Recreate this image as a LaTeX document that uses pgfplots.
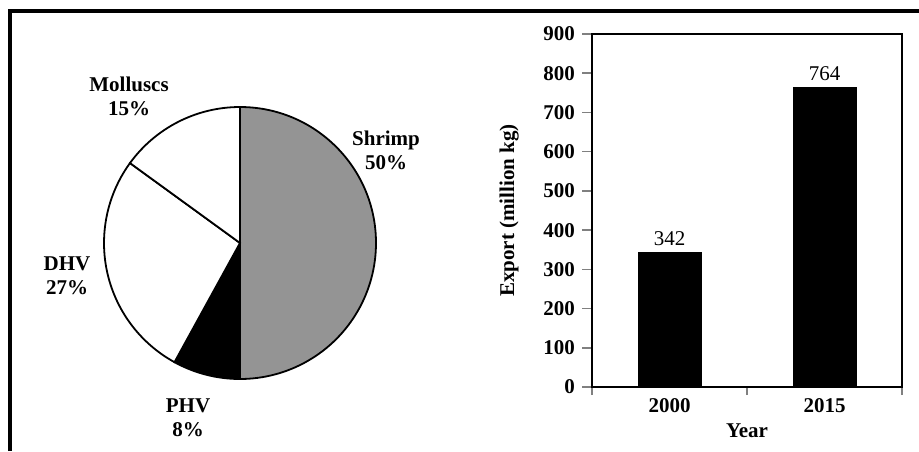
\documentclass[border=0pt]{standalone}
\usepackage{pgfplots}
\pgfplotsset{compat=1.18}
\usepackage{fontspec}
\setmainfont{Liberation Serif}

% pie slice: start %, end %, fill colour (clockwise from 12 o'clock)
\newcommand{\pieslice}[3]{%
  \filldraw[fill=#3,draw=black,line width=0.9pt]
    (axis cs:0,0) -- (axis cs:{cos(90-3.6*#1)},{sin(90-3.6*#1)})
    arc[start angle={90-3.6*#1},end angle={90-3.6*#2},radius=68pt] -- cycle;
}

\begin{document}
\begin{tikzpicture}
\path[use as bounding box] (0,0) rectangle (459.5pt,-225.5pt);
% outer frame (top and left edges only)
\draw[line width=1.6pt] (5pt,-225.5pt) -- (5pt,-5.5pt) -- (459.5pt,-5.5pt);

% ---- pie ----
\begin{axis}[
  at={(120pt,-121.5pt)}, anchor=origin,
  x=68pt, y=68pt,
  xmin=-1.5, xmax=1.5, ymin=-1.5, ymax=1.5,
  hide axis, clip=false,
  font=\bfseries\fontsize{10.5}{12}\selectfont,
]
\addplot[draw=none] coordinates {(0,0)};
\pieslice{0}{50}{black!42}
\pieslice{50}{58}{black}
\pieslice{58}{85}{white}
\pieslice{85}{100}{white}
\node[align=center] at (axis cs:-0.816,1.081) {Molluscs\\15\%};
\node[align=center] at (axis cs:1.074,0.684) {Shrimp\\50\%};
\node[align=center] at (axis cs:-1.272,-0.243) {DHV\\27\%};
\node[align=center] at (axis cs:-0.382,-1.287) {PHV\\8\%};
\end{axis}

% ---- bars ----
\begin{axis}[
  at={(296pt,-193.5pt)}, anchor=south west,
  width=155pt, height=176.5pt, scale only axis,
  axis line style={line width=1pt},
  xmin=-0.5, xmax=1.5, ymin=0, ymax=900,
  xtick={0,1}, xticklabels={2000,2015},
  minor xtick={-0.5,0.5,1.5},
  major x tick style={draw=none},
  minor x tick style={line width=0.8pt},
  minor tick length=4pt,
  ytick={0,100,...,900},
  y tick style={line width=0.8pt},
  major tick length=5pt,
  tick align=outside, tick pos=left,
  font=\bfseries\fontsize{10.5}{12}\selectfont,
  ticklabel style={font=\bfseries\fontsize{10.5}{12}\selectfont},
  xticklabel style={yshift=3pt},
  /pgf/number format/assume math mode=true,
  /pgf/number format/set thousands separator={},
  xlabel={Year}, ylabel={Export (million kg)},
  xlabel style={yshift=1pt},
  ylabel style={yshift=5.5pt},
  ybar, bar width=31.5pt,
  nodes near coords,
  nodes near coords style={font=\mdseries\fontsize{10.5}{12}\selectfont},
]
\addplot[fill=black, draw=black] coordinates {(0,342) (1,764)};
\end{axis}
\end{tikzpicture}
\end{document}
